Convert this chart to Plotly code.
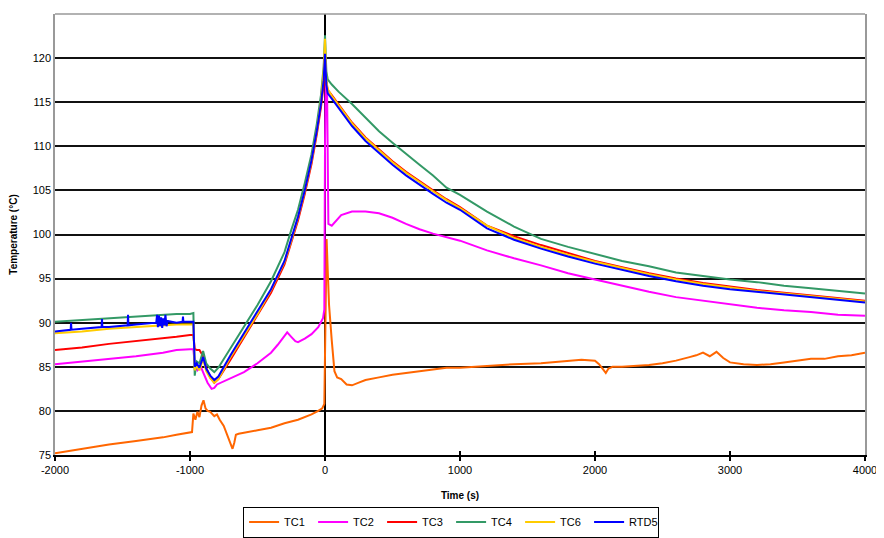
import plotly.graph_objects as go

# ---------------- data ----------------
t_tc1 = [-2000, -1800, -1600, -1400, -1200, -1100, -1000, -985, -975, -960, -945, -930, -915, -900,
         -885, -870, -850, -820, -800, -780, -750, -720, -700, -685, -672, -660, -640, -600, -500,
         -400, -300, -200, -100, -50, -20, -5, 5, 12, 20, 30, 50, 70, 90, 120, 160, 200, 250, 300,
         400, 500, 600, 700, 800, 900, 1000, 1200, 1400, 1600, 1800, 1900, 2000, 2030, 2060, 2080,
         2100, 2130, 2200, 2300, 2400, 2500, 2600, 2700, 2750, 2800, 2850, 2900, 2950, 3000, 3100,
         3200, 3300, 3400, 3500, 3600, 3700, 3800, 3900, 4000]
tc1 = [75.2, 75.7, 76.2, 76.6, 77.0, 77.3, 77.5, 77.6, 79.7, 79.0, 79.9, 79.3, 80.6, 81.2,
       80.3, 80.0, 79.9, 79.4, 79.6, 79.0, 78.3, 77.2, 76.3, 75.7, 76.4, 77.3, 77.4, 77.5, 77.8,
       78.1, 78.6, 79.0, 79.6, 80.0, 80.3, 80.8, 92.0, 99.5, 96.0, 92.0, 88.0, 84.5, 83.8, 83.6,
       83.0, 82.9, 83.2, 83.5, 83.8, 84.1, 84.3, 84.5, 84.7, 84.9, 84.9, 85.1, 85.3, 85.4, 85.7,
       85.8, 85.7, 85.3, 84.7, 84.3, 84.8, 85.0, 85.0, 85.1, 85.2, 85.4, 85.7, 86.1, 86.3, 86.6,
       86.2, 86.7, 86.0, 85.5, 85.3, 85.2, 85.3, 85.5, 85.7, 85.9, 85.9, 86.2, 86.3, 86.6]

t_tc2 = [-2000, -1800, -1600, -1400, -1200, -1100, -1000, -975, -965, -945, -920, -900, -870, -840,
         -820, -800, -700, -600, -500, -400, -350, -300, -280, -250, -220, -200, -150, -100, -50,
         -15, -5, 0, 5, 15, 25, 50, 80, 120, 200, 300, 400, 500, 600, 700, 800, 1000, 1200, 1400,
         1600, 1800, 2000, 2200, 2400, 2600, 2800, 3000, 3200, 3400, 3600, 3800, 4000]
tc2 = [85.3, 85.6, 85.9, 86.2, 86.6, 86.9, 87.0, 87.0, 85.3, 84.6, 85.0, 84.3, 83.2, 82.5,
       82.6, 83.0, 83.7, 84.4, 85.4, 86.6, 87.5, 88.5, 88.9, 88.4, 87.9, 87.8, 88.2, 88.7, 89.5,
       90.5, 91.5, 110.0, 117.5, 117.0, 101.2, 101.0, 101.5, 102.2, 102.6, 102.6, 102.4, 101.9,
       101.2, 100.6, 100.1, 99.3, 98.2, 97.3, 96.5, 95.6, 94.9, 94.2, 93.5, 92.9, 92.5, 92.1,
       91.7, 91.4, 91.2, 90.9, 90.8]

t_main = [-2000, -1800, -1600, -1400, -1200, -1100, -1000, -975, -965, -950, -930, -903, -880,
          -850, -820, -790, -700, -600, -500, -400, -300, -250, -200, -150, -100, -60, -30, -10,
          0, 10, 20, 50, 100, 200, 300, 400, 500, 600, 700, 800, 900, 1000, 1200, 1400, 1600,
          1800, 2000, 2200, 2400, 2600, 2800, 3000, 3200, 3400, 3600, 3800, 4000]
tc3 = [86.9, 87.2, 87.6, 87.9, 88.2, 88.4, 88.6, 88.6, 87.0, 86.9, 86.9, 86.2, 84.9,
       83.8, 83.2, 83.6, 85.8, 88.3, 90.8, 93.4, 96.6, 99.0, 101.6, 104.6, 108.0, 111.4, 114.4,
       117.0, 119.5, 117.2, 116.4, 115.8, 114.8, 112.7, 111.0, 109.6, 108.3, 107.1, 106.0,
       105.0, 104.0, 103.1, 101.0, 99.8, 98.8, 97.9, 97.0, 96.3, 95.6, 95.0, 94.5, 94.1, 93.7,
       93.4, 93.1, 92.8, 92.5]
tc4 = [90.1, 90.3, 90.5, 90.7, 90.9, 91.0, 91.0, 91.1, 84.0, 85.6, 85.4, 86.8, 85.4,
       84.8, 84.4, 84.9, 87.1, 89.6, 92.0, 94.7, 98.0, 100.5, 102.8, 105.8, 109.1, 112.6, 115.8,
       119.0, 122.6, 118.5, 117.6, 117.0, 116.2, 114.8, 113.2, 111.7, 110.4, 109.1, 107.9,
       106.7, 105.3, 104.5, 102.6, 100.9, 99.5, 98.6, 97.8, 97.0, 96.4, 95.7, 95.3, 94.9, 94.6,
       94.2, 93.9, 93.6, 93.3]
tc6 = [88.8, 89.0, 89.3, 89.5, 89.7, 89.8, 89.8, 89.8, 84.6, 85.1, 84.6, 85.9, 84.5,
       83.7, 83.2, 83.6, 86.1, 88.6, 91.0, 93.7, 96.9, 99.3, 101.9, 104.9, 108.3, 111.8, 115.0,
       118.5, 122.2, 117.5, 116.5, 115.7, 114.7, 112.6, 110.9, 109.5, 108.2, 107.0, 105.9,
       104.9, 103.9, 103.0, 101.0, 99.6, 98.6, 97.7, 96.9, 96.2, 95.5, 94.9, 94.4, 94.0, 93.6,
       93.3, 93.0, 92.7, 92.4]

t_rtd5 = [-2000, -1884, -1881, -1878, -1800, -1655, -1652, -1649, -1600, -1462, -1459, -1456,
          -1400, -1250, -1244, -1238, -1230, -1222, -1214, -1206, -1198, -1190, -1182, -1174,
          -1166, -1100, -1055, -1052, -1049, -1000, -975, -965, -950,
          -930, -903, -880, -850, -820, -790, -700, -600, -500, -400, -300, -250, -200, -150,
          -100, -60, -30, -10, 0, 10, 20, 50, 100, 200, 300, 400, 500, 600, 700, 800, 900, 1000,
          1200, 1400, 1600, 1800, 2000, 2200, 2400, 2600, 2800, 3000, 3200, 3400, 3600, 3800, 4000]
rtd5 = [89.0, 89.2, 90.0, 89.2, 89.3, 89.5, 90.4, 89.5, 89.5, 89.7, 90.9, 89.7,
        89.8, 90.0, 90.9, 89.5, 90.8, 89.6, 90.6, 89.4, 90.5, 89.7, 90.9, 89.6,
        90.2, 90.0, 90.1, 90.7, 90.1, 90.1, 90.1, 85.0, 85.4,
        84.9, 86.1, 84.8, 84.0, 83.5, 83.9, 86.3, 88.8, 91.2, 93.8, 97.0, 99.4, 102.0, 105.0,
        108.4, 111.8, 114.8, 117.5, 120.5, 117.0, 116.0, 115.4, 114.4, 112.3, 110.6, 109.2,
        107.9, 106.7, 105.6, 104.6, 103.6, 102.8, 100.7, 99.4, 98.4, 97.5, 96.7, 96.0, 95.3,
        94.7, 94.2, 93.8, 93.5, 93.2, 92.9, 92.6, 92.3]

x_ticks = [-2000, -1000, 0, 1000, 2000, 3000, 4000]
y_ticks = [75, 80, 85, 90, 95, 100, 105, 110, 115, 120, 125]

series = [
    ("TC1", t_tc1, tc1, "#FF6600"),
    ("TC2", t_tc2, tc2, "#FF00FF"),
    ("TC3", t_main, tc3, "#FF0000"),
    ("TC4", t_main, tc4, "#339966"),
    ("TC6", t_main, tc6, "#FFCC00"),
    ("RTD5", t_rtd5, rtd5, "#0000FF"),
]

# ---------------- figure ----------------
fig = go.Figure()
for name, xs, ys, col in series:
    fig.add_trace(go.Scatter(x=xs, y=ys, mode="lines", name=name,
                             line=dict(color=col, width=2)))

# second x axis just to draw the inward half of the crossing tick marks
fig.add_trace(go.Scatter(x=[None], y=[None], xaxis="x2", showlegend=False, hoverinfo="skip"))

font_family = "Liberation Sans, Arial, sans-serif"

fig.update_layout(
    width=876, height=538,
    margin=dict(l=47, r=19, t=6, b=91),
    paper_bgcolor="white", plot_bgcolor="white",
    font=dict(family=font_family, size=11, color="black"),
    showlegend=True,
    legend=dict(orientation="h", x=0.489, y=-0.152, xanchor="center", yanchor="middle",
                bordercolor="black", borderwidth=1, bgcolor="white",
                font=dict(size=11, family=font_family), entrywidth=24,
                itemwidth=30, tracegroupgap=0),
    xaxis=dict(range=[-2000, 4000], tickvals=x_ticks, ticktext=[str(v) for v in x_ticks],
               showgrid=False, zeroline=True, zerolinecolor="black", zerolinewidth=1.5,
               showline=True, linecolor="black", linewidth=1.5,
               ticks="outside", ticklen=4, tickcolor="black", tickwidth=1.5,
               tickfont=dict(size=11),
               title=dict(text="<b>Time (s)</b>", font=dict(size=10), standoff=17),
               automargin=False),
    xaxis2=dict(range=[-2000, 4000], overlaying="x", side="bottom", tickvals=x_ticks,
                showticklabels=False, showgrid=False, zeroline=False, showline=False,
                ticks="inside", ticklen=4, tickcolor="black", tickwidth=1.5),
    yaxis=dict(range=[75, 125], tickvals=y_ticks, ticktext=[str(v) for v in y_ticks],
               showgrid=True, gridcolor="#111111", gridwidth=1.5, zeroline=False,
               showline=True, linecolor="#999999", linewidth=1.5, mirror=True,
               ticks="", tickfont=dict(size=11),
               title=dict(text="<b>Temperature (°C)</b>", font=dict(size=10), standoff=14),
               automargin=False),
    shapes=[dict(type="line", xref="paper", yref="paper", x0=0, x1=1, y0=1, y1=1,
                 line=dict(color="#999999", width=1.5))],
)

fig.write_html("out.html")
